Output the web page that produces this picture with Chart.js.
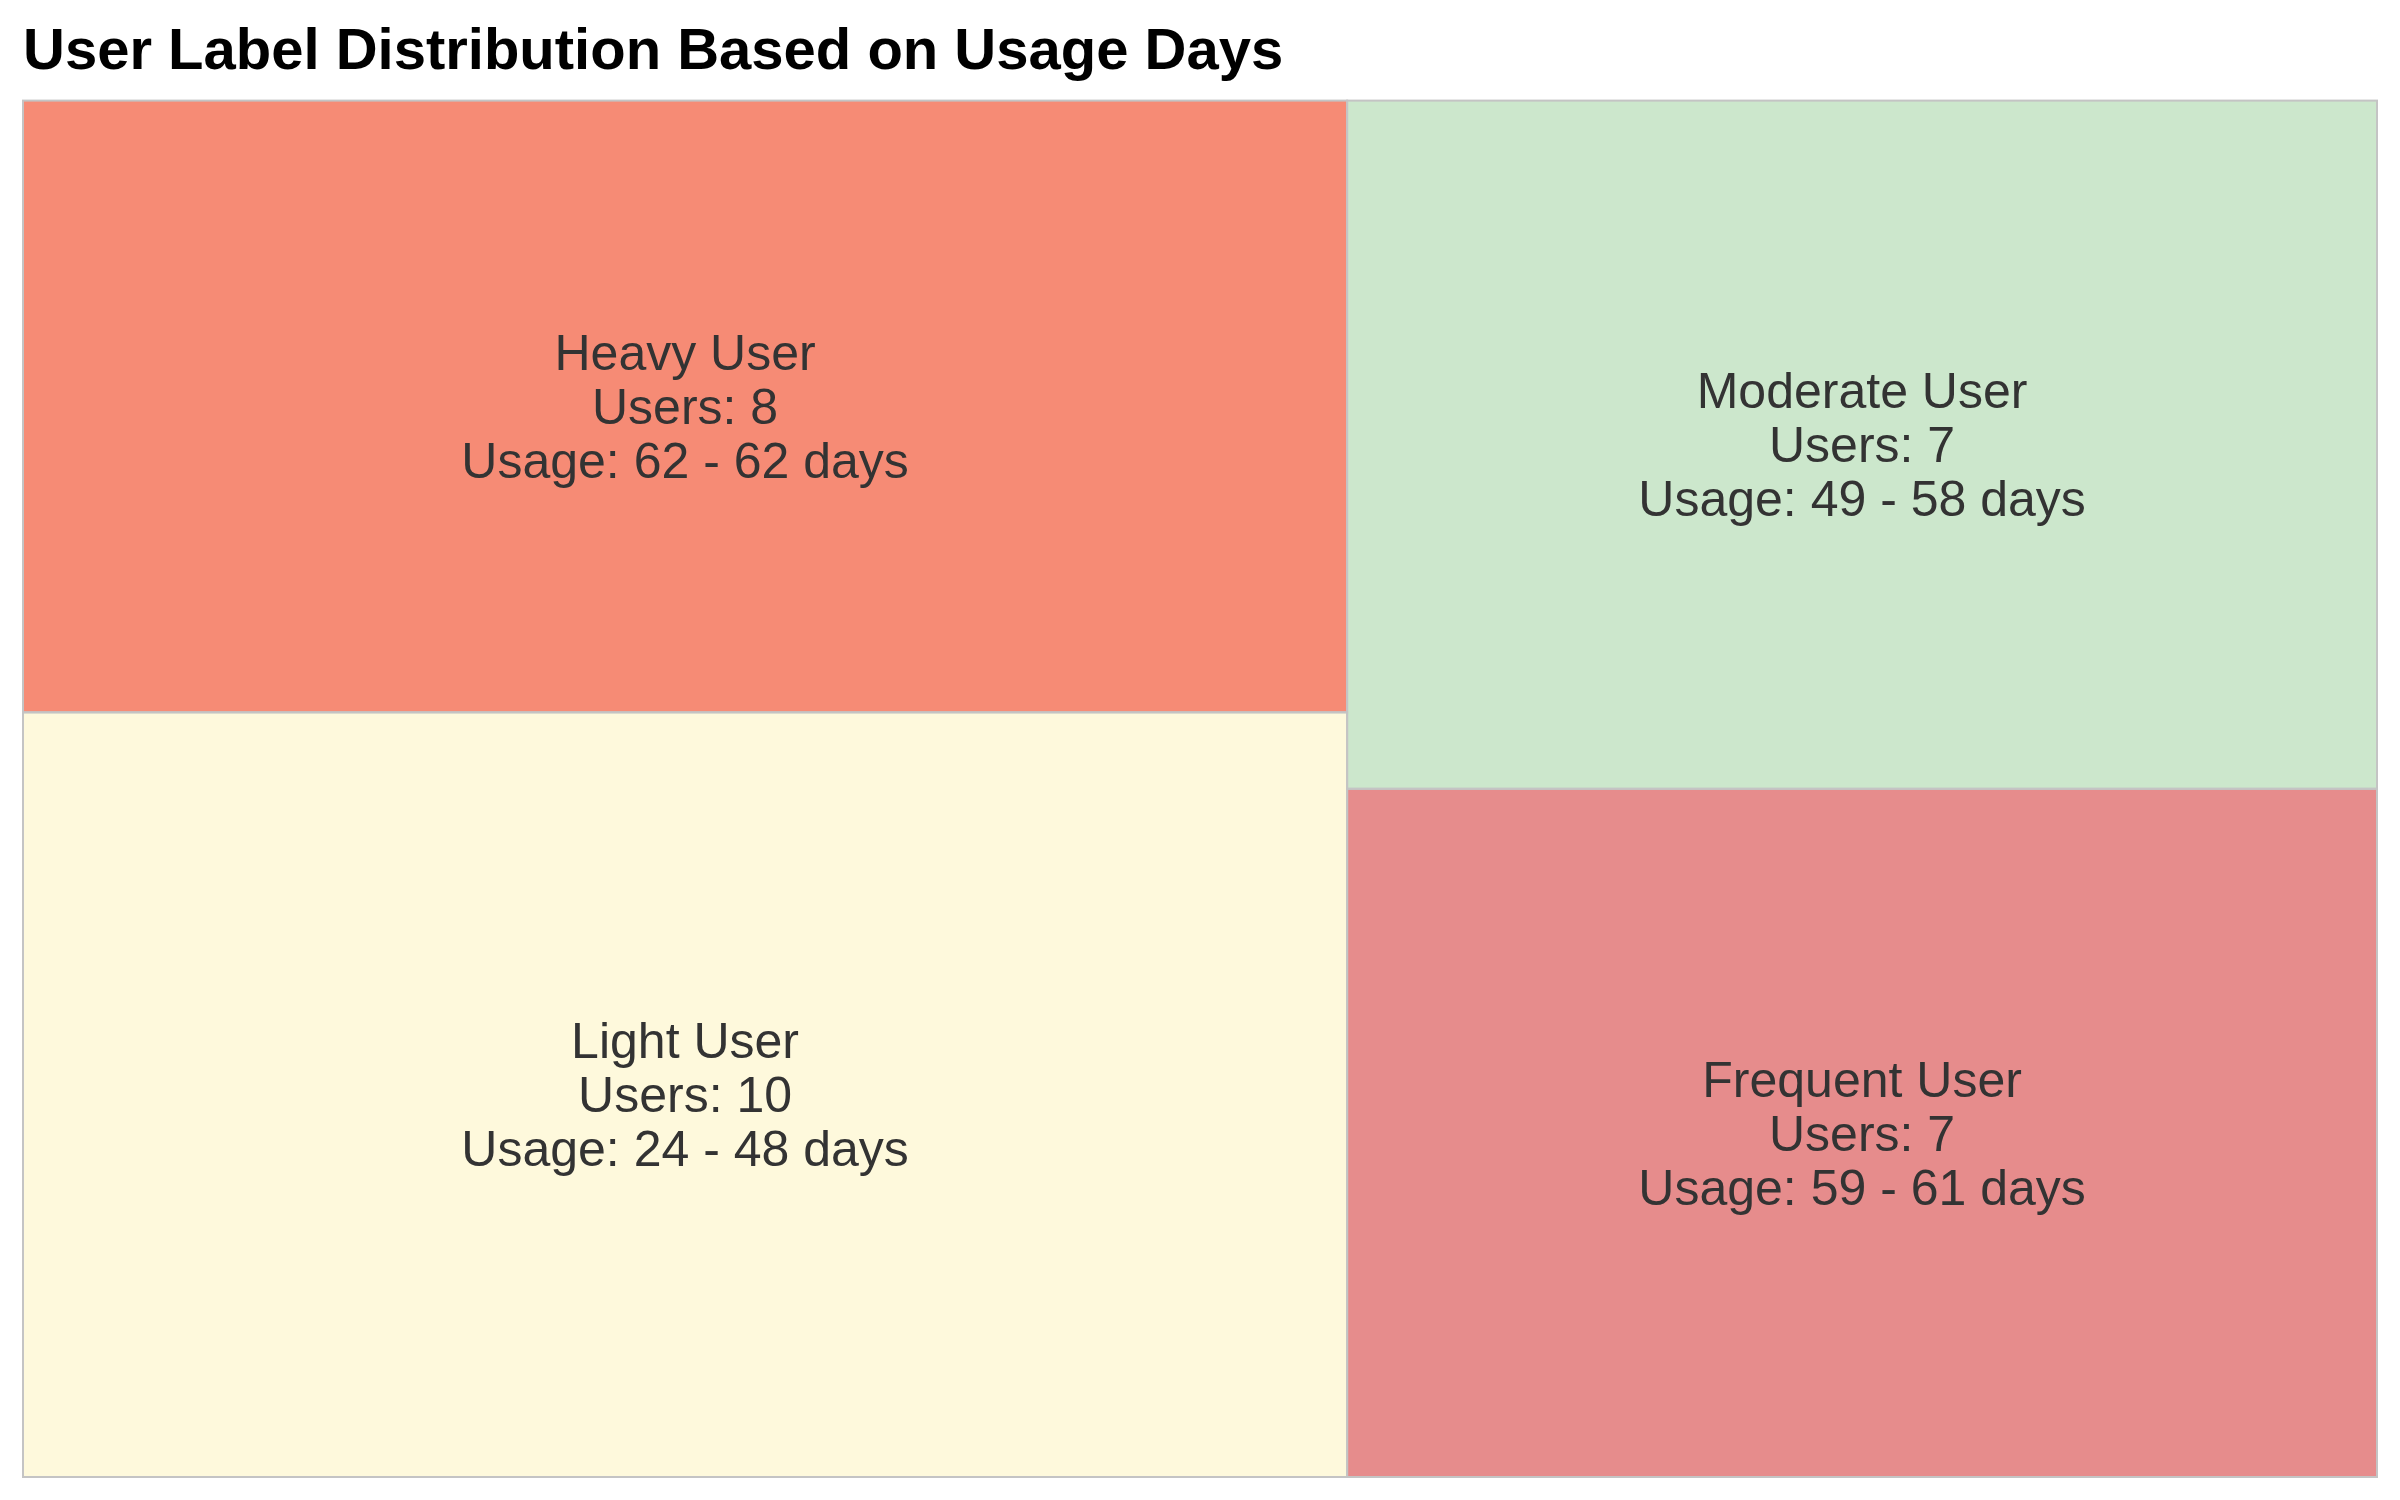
<!DOCTYPE html>
<html>
<head>
<meta charset="utf-8">
<script src="https://cdn.jsdelivr.net/npm/chart.js@4/dist/chart.umd.min.js"></script>
<style>
  html, body { margin: 0; padding: 0; background: #ffffff; }
  #wrap { width: 2400px; height: 1500px; }
</style>
</head>
<body>
<div id="wrap"><canvas id="c" width="2400" height="1500"></canvas></div>
<script>
// ---- data ----
const categories = ['Heavy User', 'Light User', 'Moderate User', 'Frequent User'];
const userCounts = [8, 10, 7, 7];
const minDays = [62, 24, 49, 59];
const maxDays = [62, 48, 58, 61];
const tileColors = ['#F68B75', '#FEF9DC', '#CCE7CC', '#E68C8C'];

// squarified treemap layout in a w x h box (returns boxes in same units)
function squarify(values, x, y, w, h) {
  const total = values.reduce((a, b) => a + b, 0);
  const area = values.map(v => v / total * w * h);
  const out = new Array(values.length);
  let idx = 0;
  function worst(row, side) {
    const s = row.reduce((a, b) => a + b, 0);
    let mx = 0;
    for (const r of row) {
      const len = s / side;
      const other = r / len;
      mx = Math.max(mx, len / other, other / len);
    }
    return mx;
  }
  while (idx < area.length) {
    const side = Math.min(w, h);
    let row = [area[idx]];
    let j = idx + 1;
    while (j < area.length) {
      const next = row.concat([area[j]]);
      if (worst(next, side) <= worst(row, side)) { row = next; j++; } else break;
    }
    const s = row.reduce((a, b) => a + b, 0);
    if (w >= h) {
      const cw = s / h;
      let cy = y;
      row.forEach((a, k) => { const rh = a / cw; out[idx + k] = { x: x, y: cy, w: cw, h: rh }; cy += rh; });
      x += cw; w -= cw;
    } else {
      const rh = s / w;
      let cx = x;
      row.forEach((a, k) => { const cw = a / rh; out[idx + k] = { x: cx, y: y, w: cw, h: rh }; cx += cw; });
      y += rh; h -= rh;
    }
    idx = j;
  }
  return out;
}

const treemapPlugin = {
  id: 'treemapTiles',
  beforeDatasetsDraw(chart) {
    const xs = chart.scales.x, ys = chart.scales.y;
    const W = Math.abs(xs.getPixelForValue(1) - xs.getPixelForValue(0));
    const H = Math.abs(ys.getPixelForValue(1) - ys.getPixelForValue(0));
    // layout in pixel-proportional units, converted to value units (0..1)
    const boxes = squarify(userCounts, 0, 0, W, H).map(b => ({
      x0: b.x / W, x1: (b.x + b.w) / W, y0: b.y / H, y1: (b.y + b.h) / H
    }));
    const ctx = chart.ctx;
    ctx.save();
    boxes.forEach((b, i) => {
      const px0 = xs.getPixelForValue(b.x0), px1 = xs.getPixelForValue(b.x1);
      const py0 = ys.getPixelForValue(b.y0), py1 = ys.getPixelForValue(b.y1);
      ctx.fillStyle = tileColors[i];
      ctx.fillRect(px0, py0, px1 - px0, py1 - py0);
    });
    boxes.forEach((b, i) => {
      const px0 = xs.getPixelForValue(b.x0), px1 = xs.getPixelForValue(b.x1);
      const py0 = ys.getPixelForValue(b.y0), py1 = ys.getPixelForValue(b.y1);
      ctx.strokeStyle = '#C4C4C4';
      ctx.lineWidth = 2;
      ctx.strokeRect(px0, py0, px1 - px0, py1 - py0);
    });
    boxes.forEach((b, i) => {
      const cx = xs.getPixelForValue((b.x0 + b.x1) / 2);
      const cy = ys.getPixelForValue((b.y0 + b.y1) / 2) + 4;
      const lines = [
        categories[i],
        'Users: ' + userCounts[i],
        'Usage: ' + minDays[i] + ' - ' + maxDays[i] + ' days'
      ];
      ctx.fillStyle = '#333333';
      ctx.font = '50px "Liberation Sans", Arial, sans-serif';
      ctx.textAlign = 'center';
      ctx.textBaseline = 'middle';
      const pitch = 54;
      lines.forEach((t, k) => ctx.fillText(t, cx, cy + (k - 1) * pitch));
    });
    ctx.restore();
  }
};

new Chart(document.getElementById('c'), {
  type: 'scatter',
  data: {
    datasets: [{
      label: 'Users',
      data: [],
      pointRadius: 0
    }]
  },
  options: {
    responsive: false,
    animation: false,
    layout: { padding: { left: 23, right: 23, top: 0, bottom: 23 } },
    scales: {
      x: { type: 'linear', min: 0, max: 1, display: false },
      y: { type: 'linear', min: 0, max: 1, reverse: true, display: false }
    },
    plugins: {
      legend: { display: false },
      tooltip: { enabled: false },
      title: {
        display: true,
        text: 'User Label Distribution Based on Usage Days',
        align: 'start',
        color: '#000000',
        font: { family: '"Liberation Sans", Arial, sans-serif', size: 58, weight: 'bold', lineHeight: 1.2 },
        padding: { top: 18, bottom: 13 }
      }
    }
  },
  plugins: [treemapPlugin]
});
</script>
</body>
</html>
